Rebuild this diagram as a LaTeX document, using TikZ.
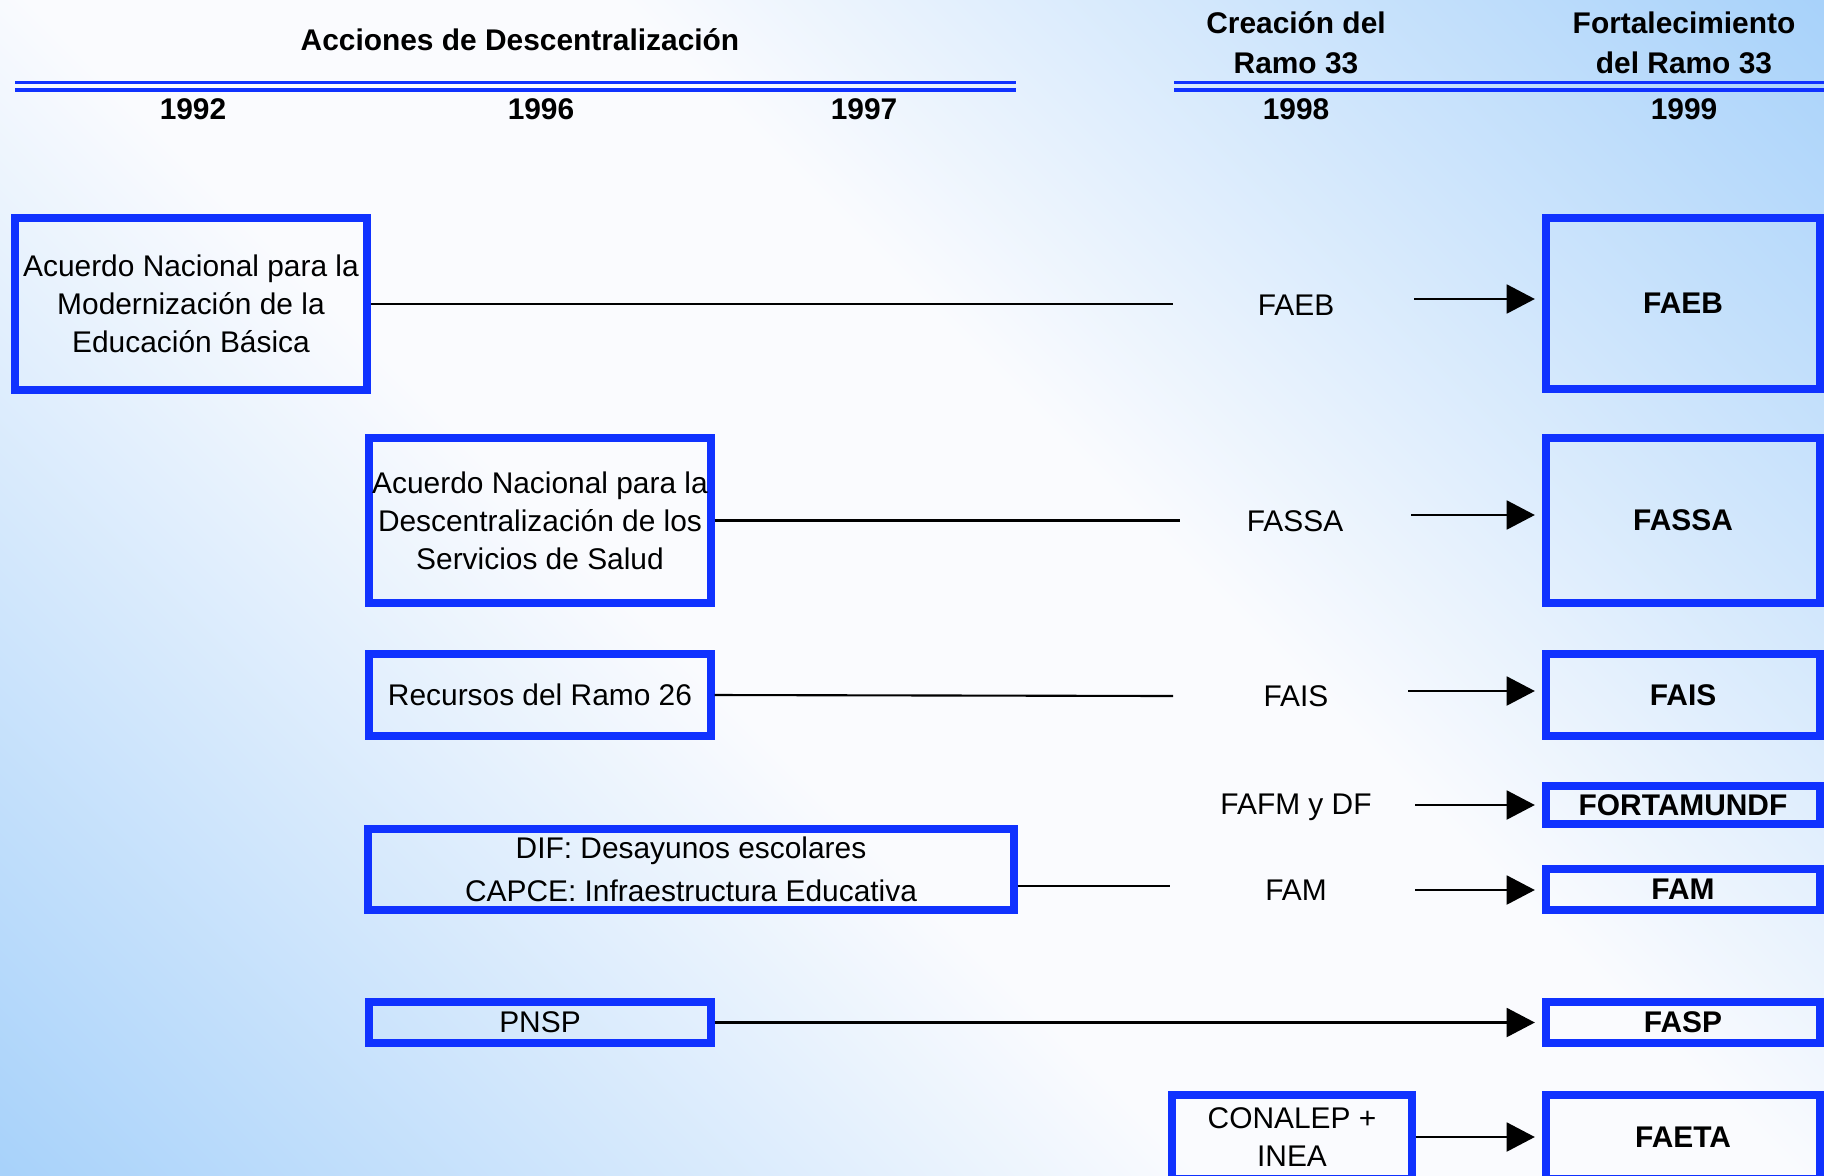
\documentclass[tikz,border=0pt]{standalone}
\usepackage{fontspec}
\setmainfont{Liberation Sans}
\usepackage{xcolor}
\usetikzlibrary{arrows.meta}
\definecolor{box-blue}{RGB}{16, 50, 255}
\definecolor{bg-blue}{RGB}{168, 210, 250}
\definecolor{bg-white}{RGB}{250, 251, 254}
\pgfdeclareverticalshading{fondo-diag}{100bp}{color(0bp)=(bg-blue); color(14.6bp)=(bg-blue); color(43bp)=(bg-white); color(57bp)=(bg-white); color(85.4bp)=(bg-blue); color(100bp)=(bg-blue)}

\begin{document}
\begin{tikzpicture}[x=0.01cm, y=-0.01cm,
    every node/.style={font=\fontsize{8.5}{10.8}\selectfont, align=center},
    titulo/.style={font=\fontsize{8.5}{11.4}\selectfont\bfseries},
    caja/.style={draw=box-blue, line width=2.3pt, inner sep=0pt},
    fondo/.style={caja, minimum width=2.74cm, font=\fontsize{8.5}{10.8}\selectfont\bfseries},
    regla/.style={draw=box-blue, line width=1pt},
    enlace/.style={line width=0.6pt},
    flecha/.style={line width=0.7pt, shorten >=2pt, -{Triangle[length=8pt,width=8.2pt]}}]
\useasboundingbox (0,0) rectangle (1824,1175);
\clip (0,0) rectangle (1824,1175);
\shade[shading=fondo-diag, shading angle=-45] (0,0) rectangle (1824,1175);

\node[titulo] (acciones) at (520,40) {Acciones de Descentralización};
\node[titulo] (creacion) at (1296,43) {Creación del\\Ramo 33};
\node[titulo] (fortalec) at (1684,43) {Fortalecimiento\\del Ramo 33};
\foreach \anio/\x in {1992/193, 1996/541, 1997/864, 1998/1296, 1999/1684}
    \node[titulo] (a\anio) at (\x,109) {\anio};
\draw[regla] (15,82.7) -- (1016,82.7) (15,89.8) -- (1016,89.8);
\draw[regla] (1174,82.7) -- (1824,82.7) (1174,89.8) -- (1824,89.8);

\node[caja, minimum width=3.52cm, minimum height=1.72cm] (anmeb) at (191,304) {Acuerdo Nacional para la\\Modernización de la\\Educación Básica};
\node[caja, minimum width=3.41cm, minimum height=1.65cm] (salud) at (540,520.5) {Acuerdo Nacional para la\\Descentralización de los\\Servicios de Salud};
\node[caja, minimum width=3.41cm, minimum height=0.82cm] (ramo26) at (540,695) {Recursos del Ramo 26};
\node[caja, minimum width=6.45cm, minimum height=0.81cm] (difcapce) at (691,869.5) {DIF: Desayunos escolares\\[1.5pt]CAPCE: Infraestructura Educativa};
\node[caja, minimum width=3.41cm, minimum height=0.41cm] (pnsp) at (540,1022.5) {PNSP};
\node[caja, minimum width=2.39cm, minimum height=0.84cm] (conalep) at (1292,1137) {CONALEP +\\INEA};

\node (faeb98) at (1296,305) {FAEB};
\node (fassa98) at (1295,521) {FASSA};
\node (fais98) at (1296,696) {FAIS};
\node (fafm98) at (1296,807) {FAFM y DF};
\node (fam98) at (1296,890) {FAM};

\node[fondo, minimum height=1.71cm] (faeb) at (1683,303.5) {FAEB};
\node[fondo, minimum height=1.65cm] (fassa) at (1683,520.5) {FASSA};
\node[fondo, minimum height=0.82cm] (fais) at (1683,695) {FAIS};
\node[fondo, minimum height=0.38cm] (fortamundf) at (1683,805) {FORTAMUNDF};
\node[fondo, minimum height=0.41cm] (fam) at (1683,889.5) {FAM};
\node[fondo, minimum height=0.41cm] (fasp) at (1683,1022.5) {FASP};
\node[fondo, minimum height=0.84cm] (faeta) at (1683,1137) {FAETA};

\coordinate (c-faeb) at (1173,304);
\coordinate (c-fassa) at (1180,520.5);
\coordinate (c-fais) at (1173,696);
\coordinate (c-fam) at (1170,886);
\draw[enlace] (anmeb.east) -- (c-faeb);
\draw[enlace] (salud.east) -- (c-fassa);
\draw[enlace] (ramo26.east) -- (c-fais);
\draw[enlace] (difcapce.east |- c-fam) -- (c-fam);

\foreach \nombre/\x/\y in {faeb/1414/299, fassa/1411/515, fais/1408/691, fortamundf/1415/805, fam/1415/890} {
    \coordinate (s-\nombre) at (\x,\y);
    \draw[flecha] (s-\nombre) -- (s-\nombre -| \nombre.west);
}
\draw[flecha] (pnsp.east) -- (pnsp.east -| fasp.west);
\draw[flecha] (conalep.east) -- (conalep.east -| faeta.west);
\end{tikzpicture}
\end{document}
